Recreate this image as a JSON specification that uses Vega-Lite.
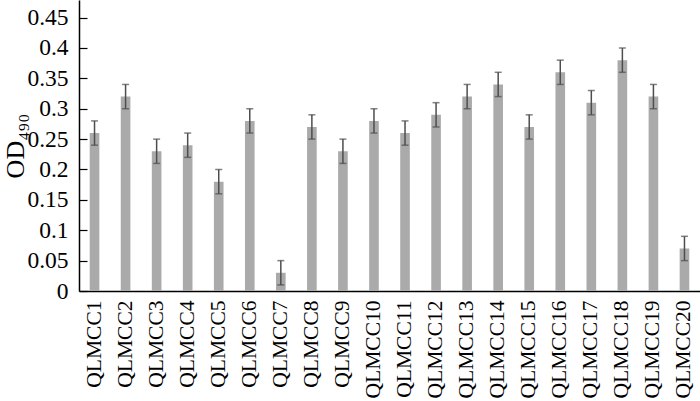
{
  "$schema": "https://vega.github.io/schema/vega-lite/v6.json",
  "autosize": "none",
  "width": 621,
  "height": 291,
  "padding": {"left": 79, "top": 0, "right": 0, "bottom": 110},
  "background": "white",
  "config": {
    "view": {"stroke": null},
    "font": "Liberation Serif",
    "axis": {"grid": false, "domainColor": "black", "tickColor": "black", "labelColor": "black", "titleColor": "black", "labelFont": "Liberation Serif", "titleFont": "Liberation Serif", "labelOverlap": false, "domainWidth": 1.5},
    "axisY": {"labelFontSize": 23.5, "tickSize": -8, "tickWidth": 1.2, "labelPadding": 19, "titleFontSize": 26, "titleFontWeight": "normal", "titlePadding": -2},
    "axisX": {"labelFontSize": 21.5, "labelPadding": 9, "ticks": false, "labelAngle": -90, "labelAlign": "right", "labelBaseline": "middle"}
  },
  "data": {
    "values": [
      {"strain": "QLMCC1", "od": 0.26, "lo": 0.24, "hi": 0.28},
      {"strain": "QLMCC2", "od": 0.32, "lo": 0.30, "hi": 0.34},
      {"strain": "QLMCC3", "od": 0.23, "lo": 0.21, "hi": 0.25},
      {"strain": "QLMCC4", "od": 0.24, "lo": 0.22, "hi": 0.26},
      {"strain": "QLMCC5", "od": 0.18, "lo": 0.16, "hi": 0.20},
      {"strain": "QLMCC6", "od": 0.28, "lo": 0.26, "hi": 0.30},
      {"strain": "QLMCC7", "od": 0.03, "lo": 0.01, "hi": 0.05},
      {"strain": "QLMCC8", "od": 0.27, "lo": 0.25, "hi": 0.29},
      {"strain": "QLMCC9", "od": 0.23, "lo": 0.21, "hi": 0.25},
      {"strain": "QLMCC10", "od": 0.28, "lo": 0.26, "hi": 0.30},
      {"strain": "QLMCC11", "od": 0.26, "lo": 0.24, "hi": 0.28},
      {"strain": "QLMCC12", "od": 0.29, "lo": 0.27, "hi": 0.31},
      {"strain": "QLMCC13", "od": 0.32, "lo": 0.30, "hi": 0.34},
      {"strain": "QLMCC14", "od": 0.34, "lo": 0.32, "hi": 0.36},
      {"strain": "QLMCC15", "od": 0.27, "lo": 0.25, "hi": 0.29},
      {"strain": "QLMCC16", "od": 0.36, "lo": 0.34, "hi": 0.38},
      {"strain": "QLMCC17", "od": 0.31, "lo": 0.29, "hi": 0.33},
      {"strain": "QLMCC18", "od": 0.38, "lo": 0.36, "hi": 0.40},
      {"strain": "QLMCC19", "od": 0.32, "lo": 0.30, "hi": 0.34},
      {"strain": "QLMCC20", "od": 0.07, "lo": 0.05, "hi": 0.09}
    ]
  },
  "encoding": {
    "x": {
      "field": "strain", "type": "nominal", "sort": null,
      "scale": {"paddingInner": 0.69, "paddingOuter": 0.345},
      "axis": {"title": null}
    }
  },
  "layer": [
    {
      "mark": {"type": "bar", "color": "#aaaaaa"},
      "encoding": {
        "y": {
          "field": "od", "type": "quantitative",
          "scale": {"domain": [0, 0.479], "nice": false},
          "axis": {"title": "OD₄₉₀", "values": [0, 0.05, 0.1, 0.15, 0.2, 0.25, 0.3, 0.35, 0.4, 0.45], "format": ".2~f"}
        }
      }
    },
    {
      "mark": {"type": "rule", "color": "#4d4d4d", "strokeWidth": 1.5},
      "encoding": {"y": {"field": "lo", "type": "quantitative", "axis": {"title": "OD₄₉₀", "values": [0, 0.05, 0.1, 0.15, 0.2, 0.25, 0.3, 0.35, 0.4, 0.45], "format": ".2~f"}}, "y2": {"field": "hi"}}
    },
    {
      "mark": {"type": "tick", "color": "#4d4d4d", "size": 7, "thickness": 1.5, "orient": "horizontal"},
      "encoding": {"y": {"field": "lo", "type": "quantitative", "axis": {"title": "OD₄₉₀", "values": [0, 0.05, 0.1, 0.15, 0.2, 0.25, 0.3, 0.35, 0.4, 0.45], "format": ".2~f"}}}
    },
    {
      "mark": {"type": "tick", "color": "#4d4d4d", "size": 7, "thickness": 1.5, "orient": "horizontal"},
      "encoding": {"y": {"field": "hi", "type": "quantitative", "axis": {"title": "OD₄₉₀", "values": [0, 0.05, 0.1, 0.15, 0.2, 0.25, 0.3, 0.35, 0.4, 0.45], "format": ".2~f"}}}
    }
  ]
}
